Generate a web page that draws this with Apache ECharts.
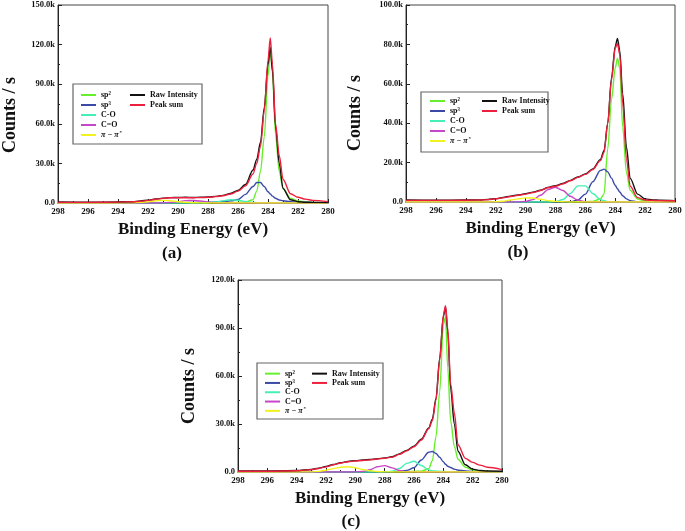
<!DOCTYPE html>
<html><head><meta charset="utf-8">
<script src="https://cdn.jsdelivr.net/npm/echarts@6/dist/echarts.min.js"></script>
<style>html,body{margin:0;padding:0;background:#fff}#c{width:685px;height:531px}</style>
</head><body><div id="c"></div>
<script>
// Binding energy sample positions (eV)
var E = [298,296,294,293,292.5,292,291.5,291,290.5,290,289.5,289,288.5,288,287.5,287,286.5,286,285.5,285,284.75,284.5,284.25,284,283.85,283.7,283.5,283.25,283,282.5,282,281.5,281,280];
var xTicks = [298,296,294,292,290,288,286,284,282,280];
var seriesNames = ['sp²','sp³','C-O','C=O','π − π*','Raw Intensity','Peak sum'];
// intensities in thousands of counts/s
// (a)
var aSp2 = [0,0,0,0,0,0.1,0.1,0.1,0.1,0.1,0.1,0.2,0.2,0.2,0.3,0.3,0.4,0.5,0.8,2.5,9,24,50,96,116,98,52,24,11,3.5,1.5,0.8,0.5,0.2];
var aSp3 = [0,0,0,0.1,0.1,0.1,0.2,0.2,0.2,0.3,0.3,0.4,0.5,0.6,0.8,1.1,1.6,2.6,6.5,12.5,15.5,15.5,12.5,8.5,6.8,5.2,3.6,2.3,1.7,1.0,0.6,0.4,0.3,0.1];
var aCO  = [0,0,0,0,0,0,0,0,0,0,0,0,0.1,0.3,0.8,1.6,2.5,2.1,1.1,0.5,0.3,0.2,0.1,0,0,0,0,0,0,0,0,0,0,0];
var aCdO = [0,0,0,0,0,0,0,0.1,0.4,1.0,1.8,2.0,1.5,0.7,0.2,0.1,0,0,0,0,0,0,0,0,0,0,0,0,0,0,0,0,0,0];
var aPi  = [0,0,0,0.2,0.5,1.0,1.7,2.0,1.7,1.0,0.5,0.2,0.1,0,0,0,0,0,0,0,0,0,0,0,0,0,0,0,0,0,0,0,0,0];
var aRaw = [0.8,0.6,0.8,1.0,1.5,2.2,3.0,3.7,4.1,4.2,4.3,4.2,4.3,4.5,5.0,5.8,7.2,9.5,14,25,33,46,72,105,118,100,58,30,11,2.5,1.0,0.6,0.5,0.4];
var aSum = [0.5,0.5,0.7,1.0,1.3,2.0,2.8,3.5,4.0,4.0,4.0,4.0,4.1,4.3,4.8,5.5,6.8,9,13,22,30,43,70,108,125,105,60,36,18,7,4.3,2.9,2.0,1.0];
// (b)
var bSp2 = [0,0,0,0,0,0,0,0,0,0,0,0,0,0,0,0,0.1,0.2,0.3,1.5,4,27,52,68,73,68,38,15,6,1.5,0.5,0.2,0.1,0];
var bSp3 = [0,0,0,0,0,0,0,0,0,0,0,0,0,0,0,0.1,1.0,4.0,10.3,16.0,16.7,15.3,12.1,8.5,6.7,5.1,3.2,1.6,0.7,0.1,0,0,0,0];
var bCO  = [0,0,0,0,0,0,0,0,0,0,0,0,0,0.2,1.3,4.3,8.2,8.2,4.3,1.3,0.6,0.2,0,0,0,0,0,0,0,0,0,0,0,0];
var bCdO = [0,0,0,0,0,0,0,0,0.05,0.3,1.2,3.4,6.3,7.5,5.8,2.9,0.9,0.2,0.05,0,0,0,0,0,0,0,0,0,0,0,0,0,0,0];
var bPi  = [0,0,0,0,0,0.1,0.4,1.0,1.6,2.1,2.0,1.4,0.7,0.3,0.1,0,0,0,0,0,0,0,0,0,0,0,0,0,0,0,0,0,0,0];
var bRaw = [1.0,0.9,1.0,1.1,1.3,1.7,2.3,3.0,3.6,4.2,5.0,6.0,7.4,8.3,9.4,11,12.7,14.2,16.8,21.5,26,40,63,79,83,77,55,28,12,4,1.6,1.1,0.9,0.7];
var bSum = [0.8,0.8,0.9,1.0,1.2,1.6,2.2,2.8,3.4,4.0,4.8,5.8,7.2,8.0,9.2,10.8,12.5,14.0,16.5,21,25,40,62,78,80.5,75,50,22,8,2.2,1.0,0.8,0.7,0.6];
// (c)
var cSp2 = [0,0,0,0,0,0,0,0,0,0,0.1,0.1,0.1,0.2,0.2,0.3,0.3,0.4,0.5,2.0,7,22,50,92,97,65,32,16,8,3,1.3,0.7,0.4,0.2];
var cSp3 = [0,0,0,0,0,0,0,0,0,0,0,0,0,0,0.1,0.4,1.0,2.7,7.5,12.3,12.8,11.6,9.2,6.4,4.8,3.6,2.8,1.8,1.2,0.6,0.3,0.2,0.1,0];
var cCO  = [0,0,0,0,0,0,0,0,0,0,0,0,0,0.05,0.45,2.2,5.4,6.7,4.1,1.3,0.7,0.5,0.4,0.3,0.3,0.2,0.2,0.15,0.1,0.05,0,0,0,0];
var cCdO = [0,0,0,0,0,0,0,0,0,0.05,0.4,1.4,3.3,4.0,2.6,0.9,0.2,0.05,0,0,0,0,0,0,0,0,0,0,0,0,0,0,0,0];
var cPi  = [0,0,0,0.1,0.4,1.1,2.1,3.0,3.3,2.7,1.6,0.8,0.3,0.1,0,0,0,0,0,0,0,0,0,0,0,0,0,0,0,0,0,0,0,0];
var cRaw = [0.6,0.6,0.9,1.6,2.4,3.4,4.7,5.8,6.6,7.1,7.5,7.8,8.3,8.8,9.5,11.3,13.5,16.2,20.5,27.5,33,46,71,97,103,88,52,30,13,4.5,1.8,0.9,0.6,0.5];
var cSum = [0.5,0.5,0.8,1.5,2.2,3.2,4.5,5.6,6.4,6.9,7.2,7.6,8.1,8.6,9.3,11,13.2,15.8,20,27,32,45,70,98,104,90,55,37,17,8.5,6,4.3,3.0,1.5];
var yMax = [150, 100, 120];
var yStep = [30, 20, 30];
var panelLabels = ['(a)','(b)','(c)'];

var colors = ['#66f02c','#3a4aa6','#44f0b4','#c846c8','#f2f21e','#111111','#ee1f3c'];
var FF = '"Liberation Serif","Times New Roman",serif';
var panels = [[aSp2,aSp3,aCO,aCdO,aPi,aRaw,aSum],[bSp2,bSp3,bCO,bCdO,bPi,bRaw,bSum],[cSp2,cSp3,cCO,cCdO,cPi,cRaw,cSum]];
var grids = [
  {left:58, top:5, width:270, height:198},
  {left:406, top:5, width:269, height:197},
  {left:238, top:280, width:264, height:192}
];
function pts(arr){ return E.map(function(e,i){ return [e, arr[i]]; }); }

var xAxes = [], yAxes = [], series = [];
grids.forEach(function(g, k){
  g.show = true; g.borderColor = '#444'; g.borderWidth = 1; g.outerBoundsMode = 'none';
  xAxes.push({
    type:'value', gridIndex:k, min:280, max:298, interval:2, inverse:true,
    name:'Binding Energy (eV)', nameLocation:'middle', nameGap:18,
    nameTextStyle:{fontFamily:FF, fontWeight:'bold', fontSize:17, color:'#111'},
    axisLine:{show:true, onZero:false, lineStyle:{color:'#222', width:1}},
    axisTick:{show:true, inside:true, length:4, lineStyle:{color:'#222'}},
    minorTick:{show:true, splitNumber:2, length:2, lineStyle:{color:'#222'}},
    splitLine:{show:false},
    axisLabel:{fontFamily:FF, fontWeight:'bold', fontSize:9, color:'#111', margin:4,
      formatter:function(v){ return xTicks.indexOf(v) >= 0 ? String(v) : ''; }}
  });
  yAxes.push({
    type:'value', gridIndex:k, min:0, max:yMax[k], interval:yStep[k],
    axisLine:{show:true, onZero:false, lineStyle:{color:'#222', width:1}},
    axisTick:{show:true, inside:true, length:4, lineStyle:{color:'#222'}},
    minorTick:{show:true, splitNumber:2, length:2, lineStyle:{color:'#222'}},
    splitLine:{show:false},
    axisLabel:{fontFamily:FF, fontWeight:'bold', fontSize:8.5, color:'#111', margin:3,
      formatter:function(v){ return v === 0 ? '0.0' : v.toFixed(1) + 'k'; }}
  });
  panels[k].forEach(function(arr, j){
    series.push({
      type:'line', name:seriesNames[j], xAxisIndex:k, yAxisIndex:k,
      data:pts(arr), showSymbol:false, smooth:0.3, smoothMonotone:'x',
      lineStyle:{color:colors[j], width:1.4}, itemStyle:{color:colors[j]},
      z: 2 + j, animation:false
    });
  });
});

var legendTS = function(lh){ return {fontFamily:FF, fontWeight:'bold', fontSize:8, color:'#111', lineHeight:lh,
  rich:{p:{fontFamily:FF, fontWeight:'bold', fontStyle:'italic', fontSize:8, lineHeight:lh, color:'#111'},
        s:{fontFamily:FF, fontSize:5, color:'#111', verticalAlign:'top', lineHeight:lh, padding:[0,0,3,1]}}}; };
function fmt(n){ return n === 'π − π*' ? '{p|π − π}{s|*}' : n; }
var legendPos = [
  {l1:81, l2:130, top:90, lh:10},
  {l1:430, l2:482, top:96, lh:10},
  {l1:265, l2:312, top:369, lh:9.3}
];
var legends = [];
legendPos.forEach(function(p){
  legends.push({left:p.l1, top:p.top, orient:'vertical', padding:0, itemGap:0, itemWidth:15, itemHeight:2, icon:'rect',
    data:seriesNames.slice(0,5), textStyle:legendTS(p.lh), formatter:fmt, selectedMode:false});
  legends.push({left:p.l2, top:p.top, orient:'vertical', padding:0, itemGap:0, itemWidth:15, itemHeight:2, icon:'rect',
    data:seriesNames.slice(5), textStyle:legendTS(p.lh), formatter:fmt, selectedMode:false});
});

var boxes = [[73,84,129,60],[421,92,127,60],[257,363,126,56]];
var graphics = [];
boxes.forEach(function(b){
  graphics.push({type:'rect', shape:{x:b[0], y:b[1], width:b[2], height:b[3]},
    style:{fill:'none', stroke:'#666', lineWidth:1.2}, z:1});
});
var yNamePos = [[10,115],[355,113],[189,386]];
yNamePos.forEach(function(p){
  graphics.push({type:'text', x:p[0], y:p[1], rotation:Math.PI/2,
    style:{text:'Counts / s', fontFamily:FF, fontWeight:'bold', fontSize:18, fill:'#111', align:'center', verticalAlign:'middle'}});
});
var labelPos = [[172,254],[518,253],[351,522]];
labelPos.forEach(function(p, k){
  graphics.push({type:'text', x:p[0], y:p[1],
    style:{text:panelLabels[k], fontFamily:FF, fontWeight:'bold', fontSize:17, fill:'#111', align:'center', verticalAlign:'middle'}});
});

var chart = echarts.init(document.getElementById('c'), null, {renderer:'canvas'});
chart.setOption({
  backgroundColor:'#fff', animation:false,
  grid:grids, xAxis:xAxes, yAxis:yAxes, series:series, legend:legends, graphic:graphics
});
</script></body></html>
